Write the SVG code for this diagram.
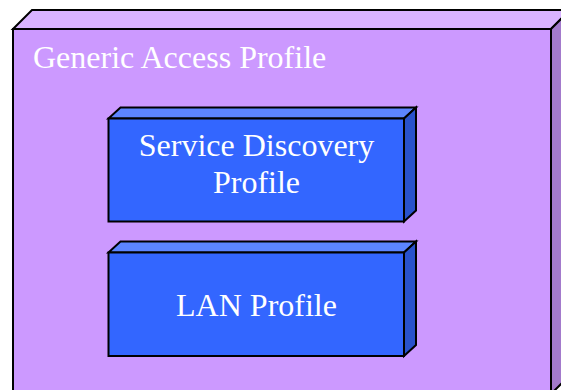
<svg xmlns="http://www.w3.org/2000/svg" width="561" height="390" viewBox="0 0 561 390">
<style>
.e{stroke:#000;stroke-width:2;stroke-linejoin:miter}
.pf{fill:#CC99FF}.pt{fill:#D9B3FF}.ps{fill:#A37ACC}
.bf{fill:#3366FF}.bt{fill:#5C85FF}.bs{fill:#2952CC}
.t{font-family:"Liberation Serif","Times New Roman",serif;font-size:32px;fill:#fff}
</style>
<rect width="561" height="390" fill="#fff"/>
<g id="generic-access-profile">
<polygon class="e pt" points="13,29 32,10 570,10 551,29"/>
<polygon class="e ps" points="551,29 570,10 570,375 551,394"/>
<rect class="e pf" x="13" y="29" width="538" height="365"/>
<text class="t" x="33" y="68">Generic Access Profile</text>
</g>
<g id="service-discovery-profile">
<polygon class="e bt" points="108.5,118.5 120.5,107.5 416,107.5 404,118.5"/>
<polygon class="e bs" points="404,118.5 416,107.5 416,210.5 404,221.5"/>
<rect class="e bf" x="108.5" y="118.5" width="295.5" height="103"/>
<text class="t" x="256.5" y="156" text-anchor="middle">Service Discovery</text>
<text class="t" x="256.5" y="193" text-anchor="middle">Profile</text>
</g>
<g id="lan-profile">
<polygon class="e bt" points="108.5,252.5 120.5,241.5 416,241.5 404,252.5"/>
<polygon class="e bs" points="404,252.5 416,241.5 416,345 404,356"/>
<rect class="e bf" x="108.5" y="252.5" width="295.5" height="103.5"/>
<text class="t" x="256.5" y="316" text-anchor="middle">LAN Profile</text>
</g>
<g id="connectors"/>
</svg>
